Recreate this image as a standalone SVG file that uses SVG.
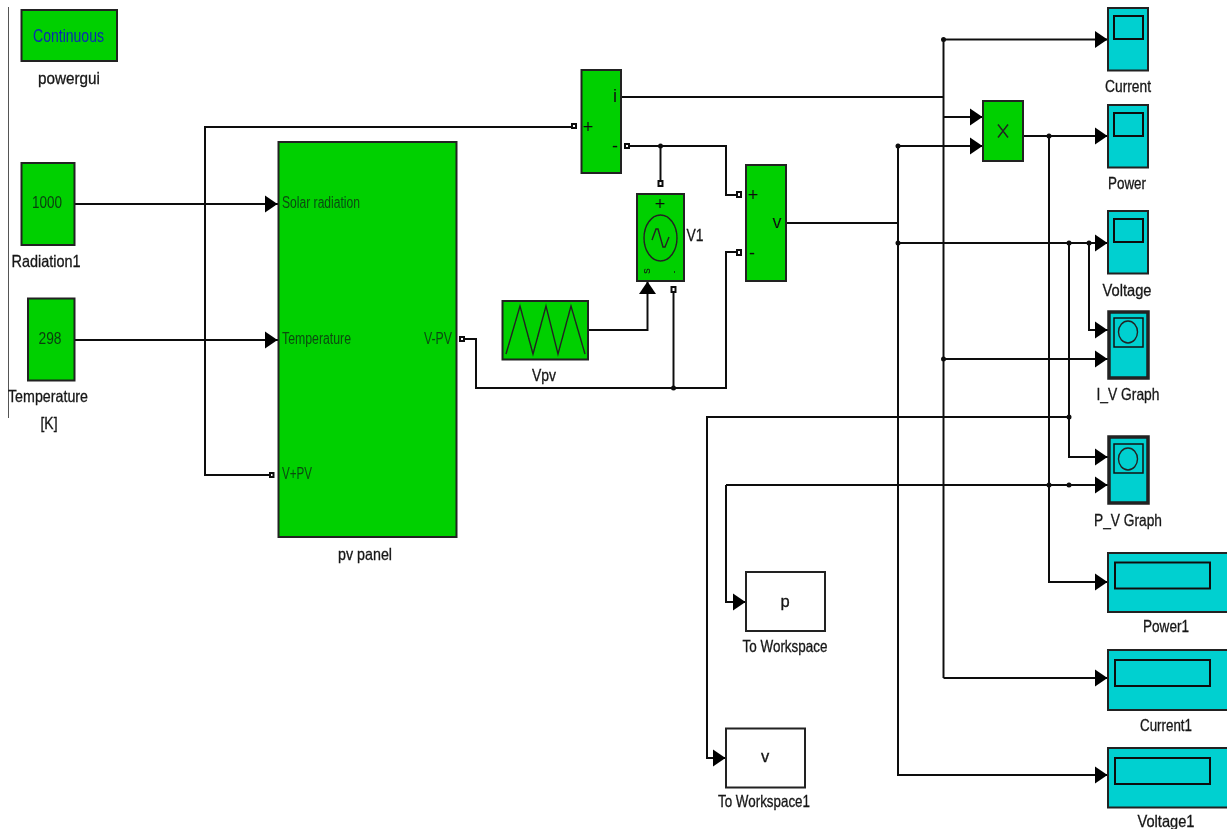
<svg xmlns="http://www.w3.org/2000/svg" width="1227" height="829" viewBox="0 0 1227 829">
<style>
text{font-family:"Liberation Sans",Arial,sans-serif;font-size:16.5px;fill:#151515;stroke:#151515;stroke-width:.3;text-anchor:middle}
.g{fill:#00d000;stroke:#222;stroke-width:2}
.c{fill:#00d0d0;stroke:#222;stroke-width:2}
.w{fill:#fff;stroke:#222;stroke-width:2}
.s{fill:none;stroke:#111;stroke-width:2}
.t{fill:none;stroke:#222;stroke-width:1.4}
.i{font-size:16px;fill:#0a4a10;stroke:none}
.n{font-size:18px;fill:#111;stroke:none}
.l{text-anchor:start}
.e{text-anchor:end}
#wires path{fill:none;stroke:#111;stroke-width:2}
.a{marker-end:url(#arrow)}
.d{fill:#111;stroke:none}
.p{fill:#fff;stroke:#111;stroke-width:2}
</style>
<defs>
<marker id="arrow" markerUnits="userSpaceOnUse" markerWidth="15" markerHeight="18" refX="14" refY="9" orient="auto"><path d="M1 0.500L13.500 9L1 17.500Z" fill="#000"/></marker>
<filter id="soft" x="0" y="0" width="100%" height="100%"><feGaussianBlur stdDeviation="0.45"/></filter>
</defs>
<g filter="url(#soft)">
<path d="M8 7V418" stroke="#555" stroke-width="2" fill="none"/>
<g id="wires">
<path class="a" d="M75 204H278"/>
<path class="a" d="M75 340H278"/>
<path d="M271 475H205V127H573"/>
<path d="M621 97H943.5"/>
<path class="a" d="M943.5 39.5H1108"/>
<path d="M943.5 39.5V678"/>
<path class="a" d="M943.5 117H983"/>
<path class="a" d="M898 146H983"/>
<path d="M786 223H898"/>
<path d="M898 146V243"/>
<path class="a" d="M898 243H1108"/>
<path class="a" d="M898 243V775H1108"/>
<path class="a" d="M1023 136H1108"/>
<path class="a" d="M1049 136V582H1108"/>
<path class="a" d="M1089 243V330H1108"/>
<path class="a" d="M1069 243V457H1108"/>
<path class="a" d="M943.5 359H1108"/>
<path class="a" d="M1069 417H707V758H726"/>
<path class="a" d="M726 485H1108"/>
<path class="a" d="M726 485V602H746"/>
<path class="a" d="M943.5 678H1108"/>
<path d="M627 146H726V195H738"/>
<path d="M660.5 146V183"/>
<path class="a" d="M588 330H647.500V281"/>
<path d="M463 339H476V388H726V252H738"/>
<path d="M673.500 291V388"/>
<circle class="d" cx="943.500" cy="39.500" r="2.500"/>
<circle class="d" cx="898" cy="146" r="2.500"/>
<circle class="d" cx="898" cy="243" r="2.500"/>
<circle class="d" cx="1049" cy="136" r="2.500"/>
<circle class="d" cx="1069" cy="243" r="2.500"/>
<circle class="d" cx="1089" cy="243" r="2.500"/>
<circle class="d" cx="943.500" cy="359" r="2.500"/>
<circle class="d" cx="1069" cy="417" r="2.500"/>
<circle class="d" cx="1049" cy="485" r="2.500"/>
<circle class="d" cx="1069" cy="485" r="2.500"/>
<circle class="d" cx="660.500" cy="146" r="2.500"/>
<circle class="d" cx="673.500" cy="388" r="2.500"/>
<rect class="p" x="270" y="473" width="3.500" height="4"/>
<rect class="p" x="572" y="124" width="4" height="4"/>
<rect class="p" x="625" y="144" width="4" height="4"/>
<rect class="p" x="658.500" y="181" width="4" height="5"/>
<rect class="p" x="671.500" y="287" width="4" height="5"/>
<rect class="p" x="737" y="192" width="4" height="5"/>
<rect class="p" x="737" y="250" width="4" height="5"/>
<rect class="p" x="460" y="337" width="4" height="4"/>
</g>
<g id="powergui"><rect class="g" x="21.500" y="10" width="95.500" height="51"/><text x="68.500" y="42" textLength="71" lengthAdjust="spacingAndGlyphs" style="fill:#0a2ab0;stroke:none;font-size:19px">Continuous</text><text x="69" y="84" textLength="62" lengthAdjust="spacingAndGlyphs">powergui</text></g>
<g id="radiation1"><rect class="g" x="21.500" y="163" width="53" height="82"/><text x="47" y="208" class="i" textLength="30" lengthAdjust="spacingAndGlyphs" style="fill:#0a3a10">1000</text><text x="46" y="267" textLength="69" lengthAdjust="spacingAndGlyphs">Radiation1</text></g>
<g id="temperature"><rect class="g" x="28" y="298.500" width="46.500" height="82"/><text x="50" y="344" class="i" textLength="23" lengthAdjust="spacingAndGlyphs" style="fill:#0a3a10">298</text><text x="48" y="402" textLength="80" lengthAdjust="spacingAndGlyphs">Temperature</text><text x="49" y="429" textLength="17" lengthAdjust="spacingAndGlyphs">[K]</text></g>
<g id="pv-panel"><rect class="g" x="278.500" y="142" width="178" height="395"/><text x="282" y="208" class="i l" textLength="78" lengthAdjust="spacingAndGlyphs">Solar radiation</text><text x="282" y="344" class="i l" textLength="69" lengthAdjust="spacingAndGlyphs">Temperature</text><text x="282" y="479" class="i l" textLength="30" lengthAdjust="spacingAndGlyphs">V+PV</text><text x="452" y="344" class="i e" textLength="28" lengthAdjust="spacingAndGlyphs">V-PV</text><text x="365" y="560" textLength="54" lengthAdjust="spacingAndGlyphs">pv panel</text></g>
<g id="current-measurement"><rect class="g" x="581.500" y="70" width="39.500" height="103"/><text x="615" y="102" class="n">i</text><text x="588" y="133" class="n">+</text><text x="615" y="152" class="n">-</text></g>
<g id="v1"><rect class="g" x="637" y="194" width="47" height="87"/><text x="660" y="210" class="n">+</text><ellipse class="t" cx="660.500" cy="238" rx="16.500" ry="23"/><path class="t" d="M652 240L656 229L658 229L663 247L665 247L669 237"/><text x="650" y="271" class="i" transform="rotate(-90 650 271)" style="font-size:11px;fill:#111">s</text><text x="677" y="272" class="i" transform="rotate(-90 677 272)" style="font-size:9px;fill:#111">-</text><text x="695" y="241" textLength="17" lengthAdjust="spacingAndGlyphs">V1</text></g>
<g id="voltage-measurement"><rect class="g" x="746" y="165" width="40" height="116"/><text x="777" y="228" class="n">v</text><text x="753" y="201" class="n">+</text><text x="752" y="259" class="n">-</text></g>
<g id="vpv"><rect class="g" x="502.500" y="301" width="85.500" height="58.500"/><path class="t" d="M506 354L520 306L533 354L546 306L558 354L571 306L585 354"/><text x="544" y="381" textLength="24" lengthAdjust="spacingAndGlyphs">Vpv</text></g>
<g id="product"><rect class="g" x="983" y="101" width="40" height="60"/><path class="t" d="M998 124.500L1008 137.500M1008 124.500L998 137.500"/></g>
<g id="current"><rect class="c" x="1108" y="8" width="40" height="62.500"/><rect class="s" x="1114" y="16" width="29" height="23"/><text x="1128" y="92" textLength="46" lengthAdjust="spacingAndGlyphs">Current</text></g>
<g id="power"><rect class="c" x="1108" y="105" width="40" height="62.500"/><rect class="s" x="1114" y="113" width="29" height="23"/><text x="1127" y="189" textLength="38" lengthAdjust="spacingAndGlyphs">Power</text></g>
<g id="voltage"><rect class="c" x="1108" y="211" width="40" height="62.500"/><rect class="s" x="1114" y="219" width="29" height="23"/><text x="1127" y="296" textLength="49" lengthAdjust="spacingAndGlyphs">Voltage</text></g>
<g id="iv-graph"><rect class="c" x="1109" y="312" width="39" height="66" style="stroke-width:3.500"/><rect class="s" x="1114" y="318" width="29" height="29" style="stroke-width:1.500"/><ellipse class="t" cx="1128" cy="332" rx="9.500" ry="11"/><text x="1128" y="400" textLength="63" lengthAdjust="spacingAndGlyphs">I_V Graph</text></g>
<g id="pv-graph"><rect class="c" x="1109" y="437" width="39" height="66" style="stroke-width:3.500"/><rect class="s" x="1114" y="444" width="29" height="29" style="stroke-width:1.500"/><ellipse class="t" cx="1128" cy="459" rx="9.500" ry="11"/><text x="1128" y="526" textLength="68" lengthAdjust="spacingAndGlyphs">P_V Graph</text></g>
<g id="power1"><rect class="c" x="1108" y="553" width="120" height="59"/><rect class="s" x="1115" y="562.500" width="95" height="26"/><text x="1166" y="632" textLength="46" lengthAdjust="spacingAndGlyphs">Power1</text></g>
<g id="current1"><rect class="c" x="1108" y="650" width="120" height="60"/><rect class="s" x="1115" y="660" width="95" height="26"/><text x="1166" y="731" textLength="52" lengthAdjust="spacingAndGlyphs">Current1</text></g>
<g id="voltage1"><rect class="c" x="1108" y="748" width="120" height="59.500"/><rect class="s" x="1115" y="758" width="95" height="26"/><text x="1166" y="827" textLength="57" lengthAdjust="spacingAndGlyphs">Voltage1</text></g>
<g id="to-workspace"><rect class="w" x="746" y="572" width="79" height="59"/><text x="785" y="607">p</text><text x="785" y="652" textLength="85" lengthAdjust="spacingAndGlyphs">To Workspace</text></g>
<g id="to-workspace1"><rect class="w" x="726" y="728.500" width="79" height="59"/><text x="765" y="762">v</text><text x="764" y="807" textLength="92" lengthAdjust="spacingAndGlyphs">To Workspace1</text></g>
</g>
</svg>
